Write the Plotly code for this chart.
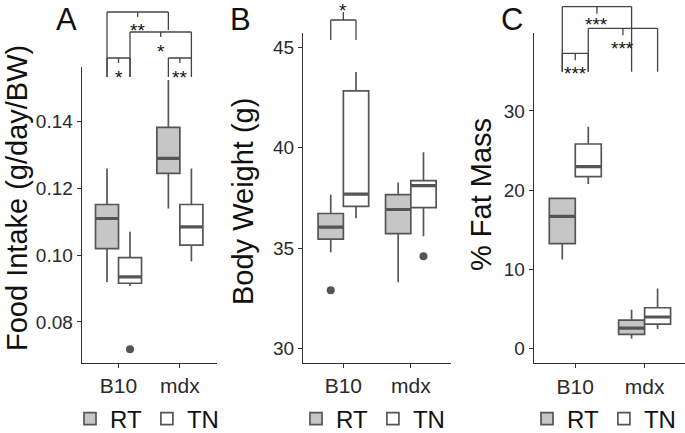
import plotly.graph_objects as go

W, H = 685, 433

# ---------------- data ----------------
groups = ["B10", "mdx"]
conditions = ["RT", "TN"]
# each entry: [lower whisker, Q1, median, Q3, upper whisker] for B10, mdx
food_rt = [[0.0920, 0.1020, 0.1110, 0.1152, 0.1260], [0.1140, 0.1245, 0.1290, 0.1383, 0.1525]]
food_tn = [[0.0908, 0.0916, 0.0935, 0.0993, 0.1070], [0.0982, 0.1030, 0.1085, 0.1152, 0.1260]]
food_out_rt = [[], []]
food_out_tn = [[0.0718], []]

bw_rt = [[34.80, 35.46, 36.05, 36.73, 37.66], [33.31, 35.73, 36.93, 37.67, 38.27]]
bw_tn = [[36.49, 37.09, 37.70, 42.83, 43.78], [35.60, 37.02, 38.12, 38.37, 39.78]]
bw_out_rt = [[32.91], []]
bw_out_tn = [[], [34.60]]

fat_rt = [[11.27, 13.25, 16.70, 18.97, 19.06], [1.26, 1.81, 2.61, 3.62, 4.92]]
fat_tn = [[20.78, 21.71, 22.97, 25.83, 28.02], [2.48, 3.11, 4.00, 5.17, 7.61]]
fat_out_rt = [[], []]
fat_out_tn = [[], []]

food_ticks = [0.08, 0.10, 0.12, 0.14]
bw_ticks = [30, 35, 40, 45]
fat_ticks = [0, 10, 20, 30]

# significance comparisons: ((group, cond), (group, cond), label)
food_sig = [(("B10", "RT"), ("B10", "TN"), "*"), (("mdx", "RT"), ("mdx", "TN"), "**"),
            (("B10", "TN"), ("mdx", "TN"), "*"), (("B10", "RT"), ("mdx", "RT"), "**")]
bw_sig = [(("B10", "RT"), ("B10", "TN"), "*")]
fat_sig = [(("B10", "RT"), ("B10", "TN"), "***"), (("B10", "TN"), ("mdx", "TN"), "***"),
           (("B10", "RT"), ("mdx", "RT"), "***")]

# ---------------- styling ----------------
FONT = "Liberation Sans"
LINE = "#555555"
FILL = {"RT": "#c6c6c6", "TN": "#ffffff"}
DODGE = 0.1875
BOXW = 0.375


def px_x(p):
    return p / W


def px_y(p):
    return 1 - p / H


def pos(group, cond):
    return groups.index(group) + 1 + (-DODGE if cond == "RT" else DODGE)


fig = go.Figure()

panels = [
    dict(ax="", stats={"RT": food_rt, "TN": food_tn}, outs={"RT": food_out_rt, "TN": food_out_tn},
         legend="legend"),
    dict(ax="2", stats={"RT": bw_rt, "TN": bw_tn}, outs={"RT": bw_out_rt, "TN": bw_out_tn},
         legend="legend2"),
    dict(ax="3", stats={"RT": fat_rt, "TN": fat_tn}, outs={"RT": fat_out_rt, "TN": fat_out_tn},
         legend="legend3"),
]

for p in panels:
    xa, ya = "x" + p["ax"], "y" + p["ax"]
    for cond in conditions:
        s = p["stats"][cond]
        xs = [pos(g, cond) for g in groups]
        fig.add_trace(go.Box(
            x=xs, lowerfence=[v[0] for v in s], q1=[v[1] for v in s], median=[v[2] for v in s],
            q3=[v[3] for v in s], upperfence=[v[4] for v in s],
            width=BOXW, whiskerwidth=0, fillcolor=FILL[cond],
            line=dict(color=LINE, width=1.7), name=cond, boxpoints=False,
            xaxis=xa, yaxis=ya, legend=p["legend"], showlegend=True, hoverinfo="skip"))
        # thicker median line (ggplot style)
        mx, my = [], []
        for x, v in zip(xs, s):
            mx += [x - BOXW / 2, x + BOXW / 2, None]
            my += [v[2], v[2], None]
        fig.add_trace(go.Scatter(x=mx, y=my, mode="lines", line=dict(color=LINE, width=3.2),
                                 xaxis=xa, yaxis=ya, showlegend=False, hoverinfo="skip"))
        ox, oy = [], []
        for g, outs in zip(groups, p["outs"][cond]):
            for o in outs:
                ox.append(pos(g, cond))
                oy.append(o)
        if ox:
            fig.add_trace(go.Scatter(x=ox, y=oy, mode="markers",
                                     marker=dict(color="#555555", size=8),
                                     xaxis=xa, yaxis=ya, showlegend=False, hoverinfo="skip"))

# ---------------- axes ----------------
xdoms = [(81.7, 216.7), (302.9, 451.3), (533.7, 685)]
xranges = [[0.4, 2.6], [0.4, 2.6], [0.4, 2.583]]
ydoms = [(67, 362.7), (33.3, 363), (33.3, 363.3)]
yranges = [[0.0678, 0.1564], [29.29, 45.70], [-1.84, 39.8]]
yticks = [food_ticks, bw_ticks, fat_ticks]
yfmt = [".2f", "d", "d"]

axis_common = dict(showline=True, linecolor="#333333", linewidth=1.1, ticks="outside",
                   ticklen=4, tickwidth=1, tickcolor="#333333", showgrid=False, zeroline=False)
for i in range(3):
    suf = "" if i == 0 else str(i + 1)
    fig.update_layout(**{
        "xaxis" + suf: dict(axis_common, domain=[px_x(xdoms[i][0]), px_x(xdoms[i][1])],
                            range=xranges[i], anchor="y" + suf, tickvals=[1, 2], ticktext=groups,
                            tickfont=dict(family=FONT, size=21, color="#2a2a2a")),
        "yaxis" + suf: dict(axis_common, domain=[px_y(ydoms[i][1]), px_y(ydoms[i][0])],
                            range=yranges[i], anchor="x" + suf, tickvals=yticks[i],
                            tickformat=yfmt[i],
                            tickfont=dict(family=FONT, size=19, color="#2a2a2a")),
    })

# ---------------- titles / panel letters ----------------
annotations = []
ytitles = [("Food Intake (g/day/BW)", 17, 198), ("Body Weight (g)", 243, 201), ("% Fat Mass", 481, 195)]
for t, xp, yp in ytitles:
    annotations.append(dict(text=t, x=px_x(xp), y=px_y(yp), xref="paper", yref="paper",
                            textangle=-90, showarrow=False, xanchor="center", yanchor="middle",
                            font=dict(family=FONT, size=29, color="#111111")))
for t, xp in [("A", 66), ("B", 240), ("C", 512)]:
    annotations.append(dict(text=t, x=px_x(xp), y=1, xref="paper", yref="paper",
                            showarrow=False, xanchor="center", yanchor="top",
                            font=dict(family=FONT, size=31, color="#111111")))

# ---------------- significance brackets ----------------
shapes = []


def seg(xref, x0, y0p, x1, y1p):
    shapes.append(dict(type="line", xref=xref, yref="paper", x0=x0, x1=x1,
                       y0=px_y(y0p), y1=px_y(y1p), line=dict(color="#444444", width=1.3)))


def star(xref, x, yp, label):
    annotations.append(dict(text=label, x=x, y=px_y(yp + 5), xref=xref, yref="paper",
                            showarrow=False, xanchor="center", yanchor="middle",
                            font=dict(family=FONT, size=19, color="#111111")))


# Panel A: (bar level px, left leg bottom px, right leg bottom px, star px)
levelsA = [(58, 77, 77, 72), (58, 77, 77, 72), (32, 77, 58, 47), (12, 77, 30, 25)]
for (a, b, lab), (lev, lbot, rbot, sp) in zip(food_sig, levelsA):
    x0, x1 = pos(*a), pos(*b)
    seg("x", x0, lev, x1, lev)
    seg("x", x0, lev, x0, lbot)
    seg("x", x1, lev, x1, rbot)
    xm = (x0 + x1) / 2
    seg("x", xm, lev, xm, lev + 5)
    star("x", xm, sp, lab)

# Panel B
for a, b, lab in bw_sig:
    x0, x1 = pos(*a), pos(*b)
    seg("x2", x0, 20, x1, 20)
    seg("x2", x0, 20, x0, 40)
    seg("x2", x1, 20, x1, 40)
    xm = (x0 + x1) / 2
    seg("x2", xm, 20, xm, 12)
    star("x2", xm, 6, lab)

# Panel C
levelsC = [(53.3, 71.7, 71.7, 68.5), (28.3, 71.7, 71.7, 44), (6.7, 71.7, 71.7, 20)]
for (a, b, lab), (lev, lbot, rbot, sp) in zip(fat_sig, levelsC):
    x0, x1 = pos(*a), pos(*b)
    seg("x3", x0, lev, x1, lev)
    seg("x3", x0, lev, x0, lbot)
    seg("x3", x1, lev, x1, rbot)
    xm = (x0 + x1) / 2
    seg("x3", xm, lev, xm, lev + 7)
    star("x3", xm, sp, lab)

# ---------------- legends ----------------
leg_common = dict(orientation="h", yanchor="middle", y=px_y(419), xanchor="left",
                  font=dict(family=FONT, size=24, color="#111111"), bgcolor="rgba(0,0,0,0)",
                  itemwidth=30, tracegroupgap=0, itemclick=False, itemdoubleclick=False)
fig.update_layout(
    legend=dict(leg_common, x=px_x(70)),
    legend2=dict(leg_common, x=px_x(296)),
    legend3=dict(leg_common, x=px_x(527)),
)

fig.update_layout(
    width=W, height=H, margin=dict(l=0, r=0, t=0, b=0, autoexpand=False),
    paper_bgcolor="white", plot_bgcolor="white", boxmode="overlay",
    annotations=annotations, shapes=shapes, font=dict(family=FONT),
)

fig.write_html("out.html", config={"displayModeBar": False},
               post_script="document.body.style.margin='0';")
